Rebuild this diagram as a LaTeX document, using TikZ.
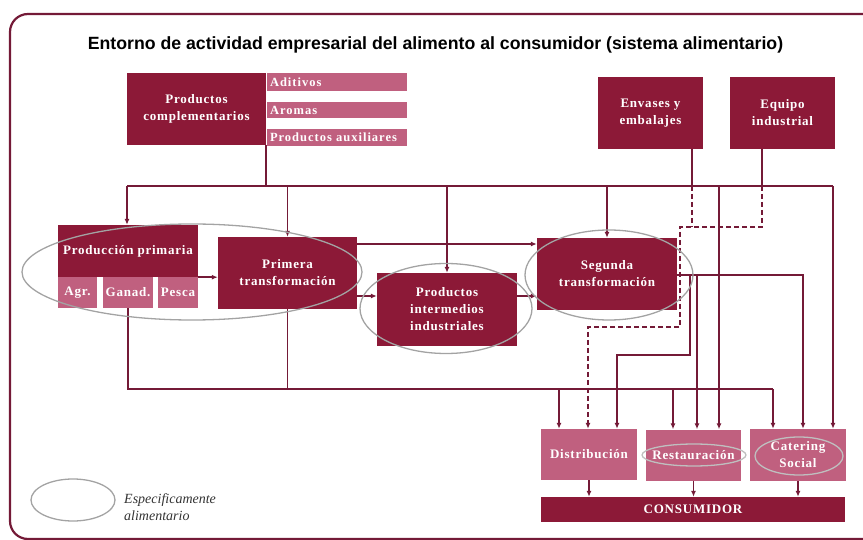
\documentclass[tikz,border=0pt]{standalone}
\usepackage{fontspec}
\setmainfont{Liberation Serif}
\newfontfamily\titlefam{Liberation Sans}
\newfontfamily\boxfam{Liberation Serif}[LetterSpace=6]
\newfontfamily\stripfam{Liberation Serif}[LetterSpace=8]
\usetikzlibrary{arrows.meta,shapes.geometric,calc}
\definecolor{darkc}{HTML}{8C1937}
\definecolor{lightc}{HTML}{C0607F}
\definecolor{linec}{HTML}{741A37}
\definecolor{ellc}{HTML}{A3A3A3}
\tikzset{
  darkbox/.style={rectangle, fill=darkc, text=white, align=center, inner sep=0pt,
    font=\boxfam\bfseries\fontsize{13}{17}\selectfont},
  lightbox/.style={rectangle, fill=lightc, text=white, align=center, inner sep=0pt,
    font=\boxfam\bfseries\fontsize{13}{17}\selectfont},
  stripbox/.style={rectangle, fill=lightc, text=white, align=left, inner sep=0pt,
    text width=134pt, minimum width=140pt,
    font=\stripfam\bfseries\fontsize{12.5}{14}\selectfont},
  conn/.style={draw=linec, line width=1.8pt},
  arr/.style={conn, -{Latex[length=6pt,width=5pt]}},
  dashconn/.style={conn, dash pattern=on 5pt off 3pt},
  specell/.style={ellipse, draw=ellc, line width=1.3pt, inner sep=0pt},
}
\begin{document}
\begin{tikzpicture}[x=1pt,y=-1pt]
\useasboundingbox (0,0) rectangle (863,540);
\begin{scope}
\clip (0,0) rectangle (863,540);
\draw[linec, line width=2.2pt, rounded corners=18pt] (900,14) -- (10,14) -- (10,539) -- (900,539);
\end{scope}

% title
\node (title) at (435.5,45) {\titlefam\bfseries\fontsize{17.7}{20}\selectfont Entorno de actividad empresarial del alimento al consumidor (sistema alimentario)};

% top boxes
\node[darkbox, minimum width=139pt, minimum height=72pt] (prodcomp) at (196.5,109) {Productos\\complementarios};
\node[stripbox, minimum height=18pt] (aditivos) at (337,82) {Aditivos};
\node[stripbox, minimum height=16pt] (aromas) at (337,110) {Aromas};
\node[stripbox, minimum height=17pt] (auxiliares) at (337,137.5) {Productos auxiliares};
\node[darkbox, minimum width=105pt, minimum height=72pt] (envases) at (650.5,113) {Envases y\\embalajes};
\node[darkbox, minimum width=105pt, minimum height=72pt] (equipo) at (782.5,113) {Equipo\\industrial};

% middle boxes
\node[darkbox, minimum width=140pt, minimum height=52pt] (prodprim) at (128,251) {Producción primaria};
\node[lightbox, minimum width=39pt, minimum height=31pt] (agr) at (77.5,292.5) {Agr.};
\node[lightbox, minimum width=50pt, minimum height=31pt] (ganad) at (128,292.5) {Ganad.};
\node[lightbox, minimum width=40pt, minimum height=31pt] (pesca) at (178,292.5) {Pesca};
\node[darkbox, minimum width=139pt, minimum height=72pt] (primera) at (287.5,273) {Primera\\transformación};
\node[darkbox, minimum width=140pt, minimum height=73pt] (prodint) at (447,309.5) {Productos\\intermedios\\industriales};
\node[darkbox, minimum width=140pt, minimum height=72pt] (segunda) at (607,274) {Segunda\\transformación};

% bottom boxes
\node[lightbox, minimum width=96pt, minimum height=51pt] (distrib) at (589,454.5) {Distribución};
\node[lightbox, minimum width=95pt, minimum height=51pt] (restaur) at (693.5,455) {Restauración};
\node[lightbox, minimum width=96pt, minimum height=52pt] (catering) at (798,455) {Catering\\Social};
\node[darkbox, minimum width=304pt, minimum height=25pt] (consum) at (693,509.5) {CONSUMIDOR};

% coordinates
\coordinate (tbL) at (127,186);
\coordinate (tbC) at (266,186);
\coordinate (tbR) at (833,186);
\coordinate (xr) at (719,0);
\coordinate (env) at (692,186);
\coordinate (d1) at (762,227);
\coordinate (d2) at (680,227);
\coordinate (d3) at (680,327);
\coordinate (d4) at (588,327);
\coordinate (s1) at (803,275);
\coordinate (b1) at (690,355);
\coordinate (b2) at (617,355);
\coordinate (b3) at (697,275);
\coordinate (bbL) at (127,389);
\coordinate (bbR) at (773,389);
\coordinate (bx1) at (559,389);
\coordinate (bx2) at (673,389);
\coordinate (h1) at (0,244);
\coordinate (h2) at (0,296);

% top bus
\draw[conn] (tbC |- prodcomp.south) -- (tbC);
\draw[conn] (tbL) -- (tbR);
\draw[arr] (tbL) -- (tbL |- prodprim.north);
\draw[arr] (tbL -| primera.north) -- (primera.north);
\draw[arr] (tbL -| prodint.north) -- (prodint.north);
\draw[arr] (tbL -| segunda.north) -- (segunda.north);
\draw[arr] (tbL -| xr) -- (xr |- restaur.north);
\draw[arr] (tbR) -- (tbR |- catering.north);

% envases / equipo
\draw[conn] (env |- envases.south) -- (env);
\draw[dashconn] (env) -- (env |- d1);
\draw[conn] (d1 |- equipo.south) -- (d1 |- tbR);
\draw[dashconn, -{Latex[length=6pt,width=5pt]}] (d1 |- tbR) -- (d1) -- (d2) -- (d3) -- (d4) -- (d4 |- distrib.north);

% horizontal flows
\draw[arr] (prodprim.south east) -- (primera.west |- prodprim.south east);
\draw[arr] (primera.east |- h1) -- (segunda.west |- h1);
\draw[arr] (primera.east |- h2) -- (prodint.west |- h2);
\draw[arr] (prodint.east |- h2) -- (segunda.west |- h2);

% segunda outputs
\draw[arr] (segunda.east |- s1) -| (s1 |- catering.north);
\draw[arr] (b1 |- s1) -- (b1) -- (b2) -- (b2 |- distrib.north);
\draw[arr] (b3) -- (b3 |- restaur.north);

% bottom bus
\draw[conn] (ganad.south) -- (ganad.south |- bbL) -- (bbR);
\draw[conn] (primera.south) -- (primera.south |- bbL);
\draw[arr] (bbR) -- (bbR |- catering.north);
\draw[arr] (bx1) -- (bx1 |- distrib.north);
\draw[arr] (bx2) -- (bx2 |- restaur.north);

% to consumer
\draw[arr] (distrib.south) -- (distrib.south |- consum.north);
\draw[arr] (restaur.south) -- (restaur.south |- consum.north);
\draw[arr] (catering.south) -- (catering.south |- consum.north);

% ellipses
\node[specell, minimum width=340pt, minimum height=96pt] (e1) at (192,272) {};
\node[specell, minimum width=172pt, minimum height=90pt] (e2) at (446,308.5) {};
\node[specell, minimum width=168pt, minimum height=90pt] (e3) at (609,275) {};
\node[specell, draw=ellc!70, minimum width=104pt, minimum height=22pt] (e4) at (694,455) {};
\node[specell, draw=ellc!70, minimum width=88pt, minimum height=38pt] (e5) at (799,456) {};

% legend
\node[specell, minimum width=84pt, minimum height=42pt] (leg) at (73,500) {};
\node[anchor=west, align=left, text=black!80, inner sep=0pt,
  font=\itshape\fontsize{14}{17}\selectfont] (legtxt) at (124,507) {Especificamente\\alimentario};
\end{tikzpicture}
\end{document}
